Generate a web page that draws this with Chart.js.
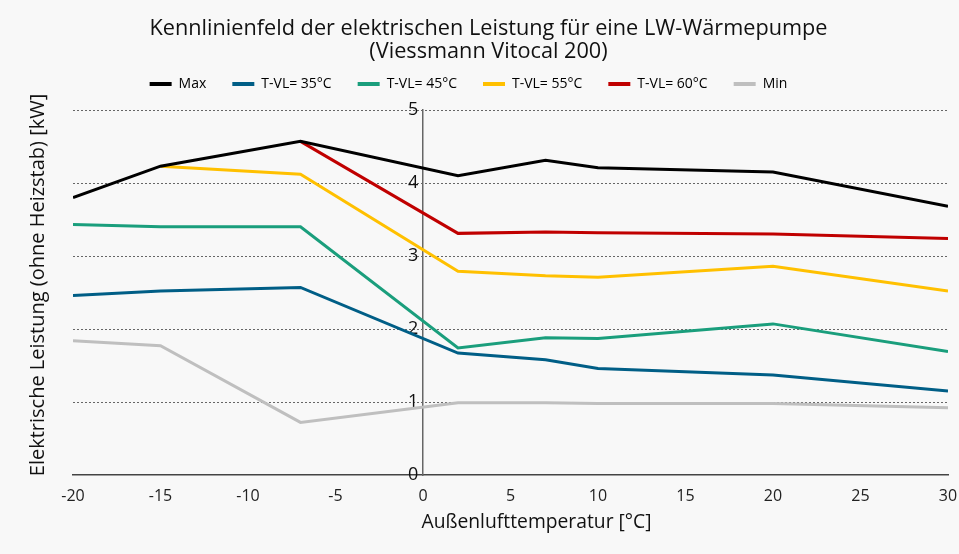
<!DOCTYPE html>
<html>
<head>
<meta charset="utf-8">
<script src="https://cdn.jsdelivr.net/npm/chart.js@4.4.1/dist/chart.umd.min.js"></script>
<style>
  html, body { margin: 0; padding: 0; background: #f8f8f8; }
  #c { display: block; }
</style>
</head>
<body>
<canvas id="c" width="959" height="554"></canvas>
<script>
// ---- data ----
const temps = [-20, -15, -7, 2, 7, 10, 20, 30];
const seriesNames = ['Max', 'T-VL= 35°C', 'T-VL= 45°C', 'T-VL= 55°C', 'T-VL= 60°C', 'Min'];
const maxVals  = [3.80, 4.23, 4.57, 4.10, 4.31, 4.21, 4.15, 3.68];
const vl35     = [2.46, 2.52, 2.57, 1.67, 1.58, 1.46, 1.37, 1.15];
const vl45     = [3.43, 3.40, 3.40, 1.74, 1.88, 1.87, 2.07, 1.69];
const vl55     = [null, 4.23, 4.12, 2.79, 2.73, 2.71, 2.86, 2.52];
const vl60     = [null, null, 4.57, 3.31, 3.33, 3.32, 3.30, 3.24];
const minVals  = [1.84, 1.77, 0.72, 0.99, 0.99, 0.98, 0.98, 0.92];
const xTicks = [-20, -15, -10, -5, 0, 5, 10, 15, 20, 25, 30];
const yTicks = [0, 1, 2, 3, 4, 5];

const titleLines = ['Kennlinienfeld der elektrischen Leistung für eine LW-Wärmepumpe', '(Viessmann Vitocal 200)'];
const xTitle = 'Außenlufttemperatur [°C]';
const yTitle = 'Elektrische Leistung (ohne Heizstab) [kW]';

const colors = ['#000000', '#005E86', '#1A9E7C', '#FFC000', '#C00000', '#BFBFBF'];
const allVals = [maxVals, vl35, vl45, vl55, vl60, minVals];

const FONT = "'Open Sans', 'Noto Sans', sans-serif";

const datasets = allVals.map((vals, i) => ({
  label: seriesNames[i],
  data: temps.map((t, j) => ({ x: t, y: vals[j] })),
  xAxisID: 'x',
  yAxisID: 'y',
  borderColor: colors[i],
  backgroundColor: colors[i],
  borderWidth: 3,
  pointRadius: 0,
  tension: 0,
  fill: false,
  spanGaps: false
}));

const textPlugin = {
  id: 'texts',
  afterDraw(chart) {
    const { ctx } = chart;
    ctx.save();
    ctx.fillStyle = '#111';
    ctx.textAlign = 'center';
    ctx.textBaseline = 'middle';
    // chart title
    ctx.font = "21.7px " + FONT;
    ctx.fillText(titleLines[0], 488.5, 29);
    ctx.fillText(titleLines[1], 488.5, 52);
    // x axis title
    ctx.font = "19.3px " + FONT;
    ctx.fillText(xTitle, 536.5, 523);
    // y axis title
    ctx.font = "20px " + FONT;
    ctx.translate(38, 285);
    ctx.rotate(-Math.PI / 2);
    ctx.fillText(yTitle, 0, 0);
    ctx.restore();
  }
};

const bgPlugin = {
  id: 'bg',
  beforeDraw(chart) {
    const { ctx, width, height } = chart;
    ctx.save();
    ctx.fillStyle = '#f8f8f8';
    ctx.fillRect(0, 0, width, height);
    ctx.restore();
  }
};

const legendGapPlugin = {
  id: 'legendGap',
  beforeInit(chart) {
    const lg = chart.legend;
    if (!lg) return;
    const origFit = lg.fit;
    lg.fit = function () {
      origFit.call(this);
      this.height += 9;
    };
  }
};

new Chart(document.getElementById('c'), {
  type: 'line',
  data: { datasets },
  plugins: [bgPlugin, textPlugin, legendGapPlugin],
  options: {
    responsive: false,
    animation: false,
    layout: { padding: { left: -11, right: 11, top: 51, bottom: 0 } },
    plugins: {
      tooltip: { enabled: false },
      title: { display: false },
      legend: {
        display: true,
        position: 'top',
        labels: {
          boxWidth: 22,
          boxHeight: 4,
          padding: 26,
          color: '#222',
          font: { family: FONT, size: 14 },
          generateLabels(chart) {
            return chart.data.datasets.map((ds, i) => ({
              text: ds.label,
              fillStyle: ds.borderColor,
              strokeStyle: ds.borderColor,
              lineWidth: 0,
              hidden: false,
              datasetIndex: i
            }));
          }
        }
      }
    },
    scales: {
      x: {
        type: 'linear',
        position: 'bottom',
        min: -20,
        max: 30,
        afterBuildTicks(scale) { scale.ticks = xTicks.map(v => ({ value: v })); },
        afterFit(scale) { scale.height = 79; },
        grid: { display: true, drawOnChartArea: false, drawTicks: true, tickLength: 12, tickColor: 'rgba(0,0,0,0)' },
        border: { display: true, color: '#444', width: 1.5 },
        ticks: { color: '#222', font: { family: FONT, size: 16 }, padding: 0 }
      },
      yT: {
        type: 'linear',
        position: 'left',
        display: true,
        min: 0,
        max: 5,
        afterFit(scale) { scale.width = 84; },
        ticks: { display: false },
        grid: { display: false, drawTicks: false },
        border: { display: false }
      },
      y: {
        type: 'linear',
        position: { x: 0 },
        min: 0,
        max: 5,
        afterBuildTicks(scale) { scale.ticks = yTicks.map(v => ({ value: v })); },
        grid: {
          drawTicks: false,
          color: ctx => ctx.tick && ctx.tick.value === 0 ? 'rgba(0,0,0,0)' : '#666',
          lineWidth: 1
        },
        border: { display: true, color: '#666', width: 1.5, dash: [2, 2] },
        ticks: { color: '#111', font: { family: FONT, size: 18 }, padding: 10, callback: v => v + ' ' }
      }
    }
  }
});
</script>
</body>
</html>
